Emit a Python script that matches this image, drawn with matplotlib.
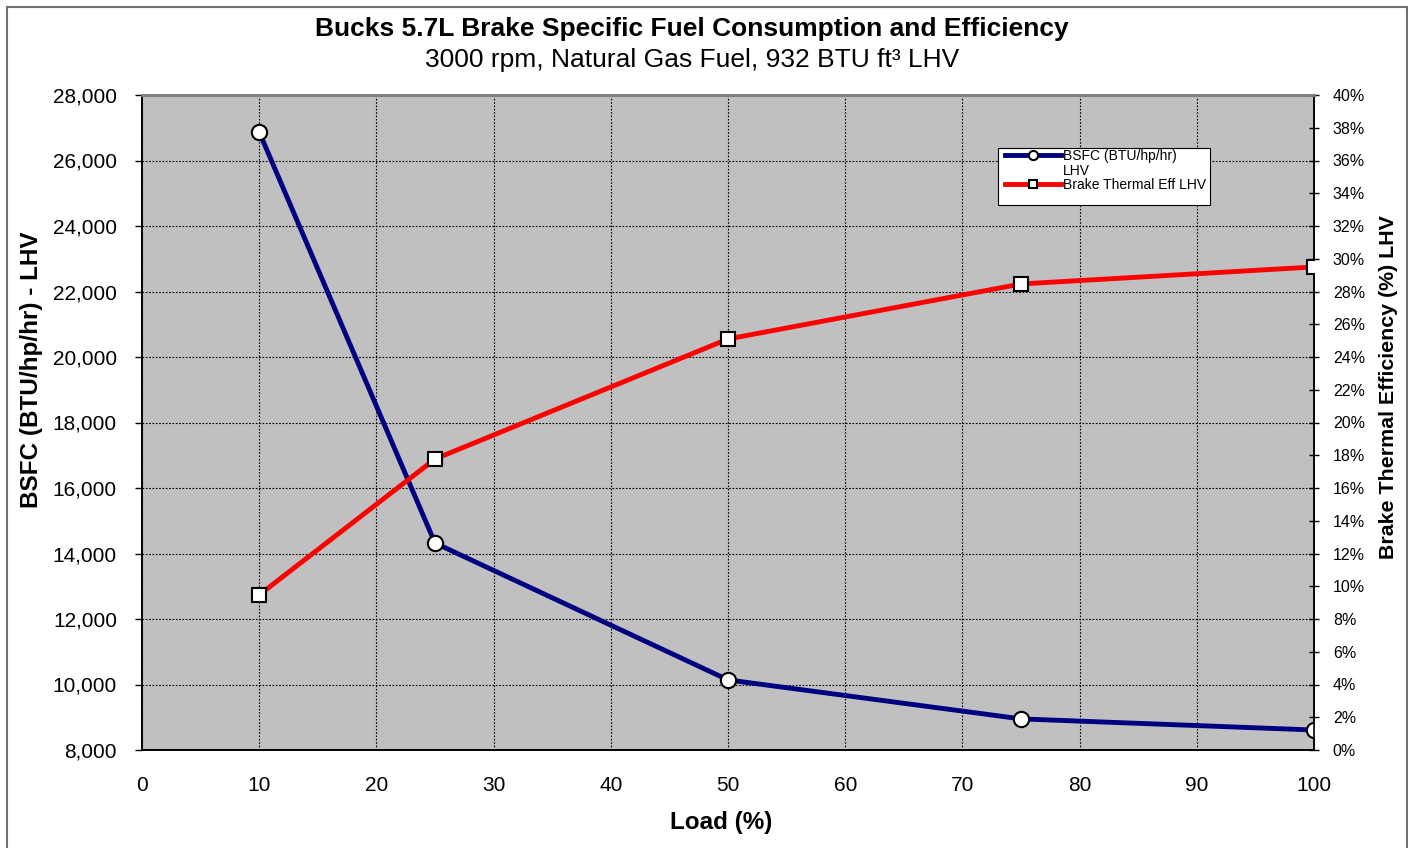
import matplotlib
matplotlib.use("Agg")
import matplotlib.pyplot as plt
from matplotlib.ticker import MultipleLocator, FuncFormatter
from matplotlib.patches import Rectangle
from matplotlib.lines import Line2D

plt.rcParams['font.family'] = ['Liberation Sans', 'DejaVu Sans']

load = [10, 25, 50, 75, 100]
bsfc = [26870, 14320, 10140, 8950, 8610]
eff = [9.47, 17.77, 25.1, 28.46, 29.5]

title = "Bucks 5.7L Brake Specific Fuel Consumption and Efficiency"
subtitle = "3000 rpm, Natural Gas Fuel, 932 BTU ft³ LHV"
legend_labels = ["BSFC (BTU/hp/hr)", "LHV", "Brake Thermal Eff LHV"]

W, H = 1408, 848
fig = plt.figure(figsize=(W/100, H/100), dpi=100)
fig.patches.append(Rectangle((7/W, -0.01), (W - 8)/W, 1 - 7/H + 0.01,
                             transform=fig.transFigure, fill=False,
                             edgecolor='#707070', linewidth=1.5))

ax = fig.add_axes([142/W, 1 - 750/H, (1314-142)/W, (750-95)/H])
ax.set_facecolor('#C0C0C0')
ax.set_xlim(0, 100)
ax.set_ylim(8000, 28000)
ax.xaxis.set_major_locator(MultipleLocator(10))
ax.yaxis.set_major_locator(MultipleLocator(2000))
ax.yaxis.set_major_formatter(FuncFormatter(lambda v, p: f"{int(v):,}"))
ax.grid(True, color='black', linestyle=(0, (1.5, 1.5)), linewidth=0.8)
ax.tick_params(axis='y', labelsize=15, length=5, width=1, color='black', direction='out', pad=13)
ax.tick_params(axis='x', labelsize=15, length=0, pad=19)
for s in ['left', 'bottom', 'right']:
    ax.spines[s].set_color('black')
    ax.spines[s].set_linewidth(1.2)
ax.spines['top'].set_color('#808080')
ax.spines['top'].set_linewidth(2)

l1, = ax.plot(load, bsfc, color='#000080', linewidth=3.5, marker='o', markersize=11,
              markerfacecolor='white', markeredgecolor='black', markeredgewidth=1.5,
              zorder=5)

ax2 = ax.twinx()
ax2.set_ylim(0, 40)
ax2.yaxis.set_major_locator(MultipleLocator(2))
ax2.yaxis.set_major_formatter(FuncFormatter(lambda v, p: f"{int(round(v))}%"))
ax2.tick_params(axis='y', labelsize=11.5, length=7, width=1, direction='inout', pad=10)
for s in ['left', 'bottom', 'right']:
    ax2.spines[s].set_color('black')
    ax2.spines[s].set_linewidth(1.2)
ax2.spines['top'].set_color('#808080')
ax2.spines['top'].set_linewidth(2)
l2, = ax2.plot(load, eff, color='#FF0000', linewidth=3.5, marker='s', markersize=10,
               markerfacecolor='white', markeredgecolor='black', markeredgewidth=1.5,
               zorder=5)

blank = Line2D([], [], linestyle='none', marker=None)
leg = ax2.legend([l1, blank, l2], legend_labels, loc='upper left',
                 bbox_to_anchor=(998/W, 1 - 142/H), bbox_transform=fig.transFigure,
                 fontsize=10, frameon=False,
                 handlelength=4.0, handletextpad=0.2, borderpad=0, labelspacing=0.05,
                 markerscale=0.6)
ax2.add_patch(Rectangle(((998-142)/1172, (750-205)/655), (1210-998)/1172, (205-148)/655,
                        transform=ax2.transAxes, facecolor='white', edgecolor='black',
                        linewidth=0.8, zorder=6))
leg.set_zorder(7)

fig.text(692/W, 1 - 29/H, title, ha='center', va='center', fontsize=19, fontweight='bold')
fig.text(692/W, 1 - 60/H, subtitle, ha='center', va='center', fontsize=19)
fig.text(721/W, 1 - 822/H, 'Load (%)', ha='center', va='center', fontsize=17.5, fontweight='bold')
fig.text(32/W, 1 - 370/H, 'BSFC (BTU/hp/hr) - LHV', ha='center', va='center',
         rotation=90, fontsize=17.5, fontweight='bold')
fig.text(1388/W, 1 - 387/H, 'Brake Thermal Efficiency (%) LHV', ha='center', va='center',
         rotation=90, fontsize=15.4, fontweight='bold')

fig.savefig('out.png', dpi=100)
